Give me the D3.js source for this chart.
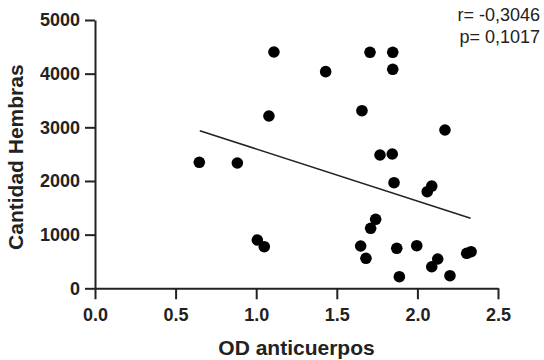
<!DOCTYPE html>
<html>
<head>
<meta charset="utf-8">
<script src="https://cdn.jsdelivr.net/npm/d3@7"></script>
<style>
  body { margin: 0; background: #fff; }
  svg { display: block; font-family: "Liberation Sans", Arial, sans-serif; }
</style>
</head>
<body>
<div id="chart"></div>
<script>
// OD values (x) and female counts (y)
const odValues = [0.647, 0.883, 1.110, 1.079, 1.431, 1.706, 1.847, 1.847, 1.656, 2.171,
  1.768, 1.844, 1.855, 2.061, 2.089, 1.710, 1.741, 1.648, 1.681, 1.872,
  1.996, 1.888, 2.089, 2.126, 2.202, 2.306, 2.333, 1.007, 1.050];
const hembras = [2348, 2335, 4404, 3211, 4037, 4398, 4398, 4081, 3310, 2950,
  2484, 2503, 1968, 1800, 1906, 1118, 1286, 788, 559, 745,
  794, 216, 402, 546, 235, 652, 682, 900, 775];

// fitted line end points
const fitX = [0.65, 2.33];
const fitY = [2937, 1304];

const xTicks = [0, 0.5, 1, 1.5, 2, 2.5];
const yTicks = [0, 1000, 2000, 3000, 4000, 5000];
const statLines = ["r= -0,3046", "p= 0,1017"];

const width = 544, height = 360;
const plotLeft = 95, plotRight = 498, plotTop = 20, plotBottom = 288.3;

const svg = d3.select("#chart").append("svg")
  .attr("width", width)
  .attr("height", height);

const x = d3.scaleLinear().domain([0, 2.5]).range([plotLeft, plotRight]);
const y = d3.scaleLinear().domain([0, 5000]).range([plotBottom, plotTop]);

// x axis
const xAxis = svg.append("g")
  .attr("transform", `translate(0,${plotBottom})`)
  .call(d3.axisBottom(x).tickValues(xTicks).tickFormat(d3.format(".1f"))
    .tickSize(11).tickSizeOuter(0).tickPadding(9));

// y axis
const yAxis = svg.append("g")
  .attr("transform", `translate(${plotLeft},0)`)
  .call(d3.axisLeft(y).tickValues(yTicks).tickFormat(d3.format("d"))
    .tickSize(10).tickSizeOuter(0).tickPadding(5));

[xAxis, yAxis].forEach(a => {
  a.select(".domain").attr("stroke", "#222").attr("stroke-width", 2);
  a.selectAll(".tick line").attr("stroke", "#222").attr("stroke-width", 2);
  a.selectAll(".tick text")
    .attr("fill", "#222")
    .style("font-size", "18px")
    .style("font-weight", "bold")
    .style("font-family", "'Liberation Sans', Arial, sans-serif");
});

// regression line
svg.append("line")
  .attr("x1", x(fitX[0])).attr("y1", y(fitY[0]))
  .attr("x2", x(fitX[1])).attr("y2", y(fitY[1]))
  .attr("stroke", "#222")
  .attr("stroke-width", 1.6);

// points
svg.append("g").selectAll("circle")
  .data(odValues.map((v, i) => ({ od: v, n: hembras[i] })))
  .join("circle")
  .attr("cx", d => x(d.od))
  .attr("cy", d => y(d.n))
  .attr("r", 5.8)
  .attr("fill", "#000");

// axis titles
svg.append("text")
  .attr("x", (plotLeft + plotRight) / 2)
  .attr("y", 355)
  .attr("text-anchor", "middle")
  .style("font-size", "21px")
  .style("font-weight", "bold")
  .attr("fill", "#222")
  .text("OD anticuerpos");

svg.append("text")
  .attr("transform", `translate(23,${(plotTop + plotBottom) / 2 + 3}) rotate(-90)`)
  .attr("text-anchor", "middle")
  .style("font-size", "21px")
  .style("font-weight", "bold")
  .attr("fill", "#222")
  .text("Cantidad Hembras");

// r and p
svg.append("g").selectAll("text")
  .data(statLines)
  .join("text")
  .attr("x", 540)
  .attr("y", (d, i) => 21 + i * 22)
  .attr("text-anchor", "end")
  .style("font-size", "18px")
  .attr("fill", "#222")
  .text(d => d);
</script>
</body>
</html>
